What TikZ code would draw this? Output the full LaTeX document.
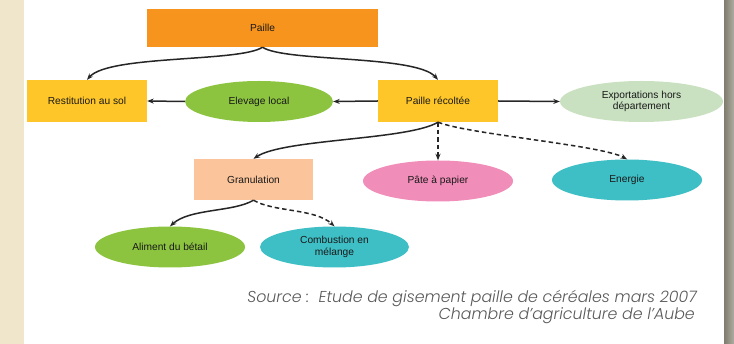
\documentclass[tikz,border=0pt]{standalone}
\usepackage{fontspec}
\setmainfont{Liberation Sans}
\newfontfamily\srcfont{Poppins Light Italic}
\usetikzlibrary{shapes.geometric,arrows.meta}

\definecolor{orangeP}{HTML}{F7941E}
\definecolor{jauneP}{HTML}{FFC629}
\definecolor{vertP}{HTML}{8CC43F}
\definecolor{vertclair}{HTML}{C9E1C1}
\definecolor{peche}{HTML}{FBC49B}
\definecolor{roseP}{HTML}{F18DB9}
\definecolor{turquoise}{HTML}{3EBFC5}
\definecolor{beige}{HTML}{F0E6CB}
\definecolor{bordgris}{HTML}{8D897A}

\tikzset{
  boite/.style={rectangle, minimum width=120pt, minimum height=42pt, inner sep=0pt,
    font=\fontsize{10.2}{11.5}\selectfont, text=black!90},
  ovale/.style={ellipse, minimum width=150pt, minimum height=41pt, inner sep=0pt,
    font=\fontsize{10.2}{11.5}\selectfont, text=black!90, align=center},
  fleche/.style={-{Stealth[length=6.5pt,width=5pt]}, line width=1.5pt, black!85},
  pointille/.style={fleche, dash pattern=on 4.5pt off 3pt}
}

\begin{document}
\begin{tikzpicture}[x=1pt,y=-1pt]
\useasboundingbox (0,0) rectangle (734,344);
\fill [white] (0,0) rectangle (734,344);
\fill [beige] (0,0) rectangle (24,344);
\shade [left color=bordgris!90!black, right color=bordgris!70!white] (724,0) rectangle (734,344);

\node [boite, fill=orangeP, minimum width=231pt, minimum height=38pt] (paille) at (262.5,28) {Paille};
\node [boite, fill=jauneP] (resti) at (87,101) {Restitution au sol};
\node [ovale, fill=vertP, minimum width=148pt] (elevage) at (259,101.5) {Elevage local};
\node [boite, fill=jauneP] (recolte) at (438,101) {Paille récoltée};
\node [ovale, fill=vertclair, minimum width=163pt] (export) at (641.5,101.5) {Exportations hors\\département};
\node [boite, fill=peche, minimum width=119pt, minimum height=41pt] (gran) at (253.5,179.5) {Granulation};
\node [ovale, fill=roseP] (pate) at (438,181) {Pâte à papier};
\node [ovale, fill=turquoise] (energie) at (627,180) {Energie};
\node [ovale, fill=vertP] (aliment) at (170,247) {Aliment du bétail};
\node [ovale, fill=turquoise, minimum width=149pt] (combu) at (334.5,247) {Combustion en\\mélange};

\draw [fleche] (paille.south) .. controls +(-22,15) and +(22,-25) .. (resti.north);
\draw [fleche] (paille.south) .. controls +(22,15) and +(-22,-25) .. (recolte.north);
\draw [fleche] (recolte.west) -- (elevage.east);
\draw [fleche] (elevage.west) -- (resti.east);
\draw [fleche] (recolte.east) -- (export.west);
\draw [fleche] (recolte.south) .. controls +(-30,18) and +(30,-20) .. (gran.north);
\draw [pointille] (recolte.south) -- (pate.north);
\draw [pointille] (recolte.south) .. controls +(30,12) and +(-25,-14) .. (energie.north);
\draw [fleche] (gran.south) .. controls +(-20,12) and +(20,-18) .. (aliment.north);
\draw [pointille] (gran.south) .. controls +(20,12) and +(-20,-18) .. (combu.north);

\node [anchor=base east, font=\srcfont\fontsize{15.8}{17}\selectfont, text=black!65, inner sep=0pt] (source) at (697,303) {Source :\ \ Etude de gisement paille de céréales mars 2007};
\node [anchor=base east, font=\srcfont\fontsize{15.8}{17}\selectfont, text=black!65, inner sep=0pt] (chambre) at (695,320) {Chambre d’agriculture de l’Aube};
\end{tikzpicture}
\end{document}
